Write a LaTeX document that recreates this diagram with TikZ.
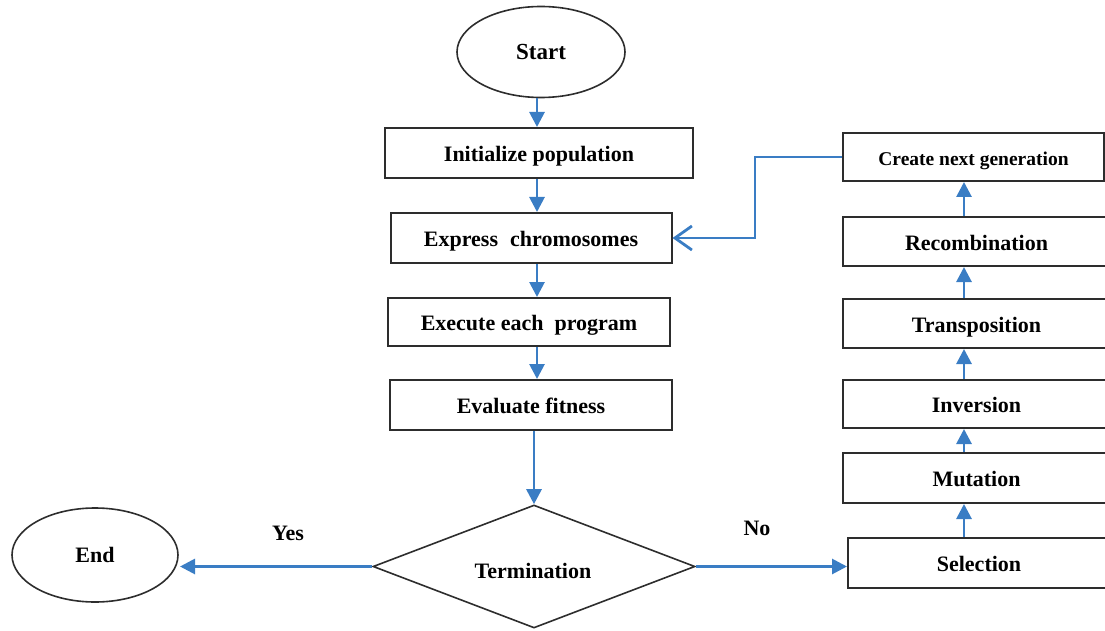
\documentclass[tikz,border=0pt]{standalone}
\usepackage{fontspec}
\setmainfont{Liberation Serif}
\usetikzlibrary{arrows.meta,shapes.geometric}
\definecolor{arrowblue}{RGB}{58,125,196}
\definecolor{edge}{RGB}{45,45,45}
\tikzset{
  lbl/.style={font=\fontsize{22}{25}\selectfont\bfseries},
  box/.style={draw=edge,line width=2pt,rectangle,inner sep=0pt,lbl,text height=17pt,text depth=0pt},
  oval/.style={draw=edge,line width=1.6pt,ellipse,inner sep=0pt,lbl},
  flow/.style={draw=arrowblue,line width=2.8pt,-{Triangle[length=15pt,width=15pt]}},
  back/.style={draw=arrowblue,line width=2.8pt,-{Straight Barb[length=17pt,width=24pt,line width=2.8pt]}},
}
\begin{document}
\begin{tikzpicture}[x=1pt,y=-1pt]
\useasboundingbox (0,0) rectangle (1105,631);
\clip (0,0) rectangle (1105,631);
% left column
\node[oval,minimum width=168pt,minimum height=91pt,font=\fontsize{23}{26}\selectfont\bfseries] (start) at (541,52) {Start};
\node[box,minimum width=308pt,minimum height=50pt] (init) at (539,153) {Initialize population};
\node[box,minimum width=281pt,minimum height=50pt] (expr) at (531,238) {Express\hspace{0.3em} chromosomes};
\node[box,minimum width=282pt,minimum height=48pt] (exec) at (529,322) {Execute each\hspace{0.25em} program};
\node[box,minimum width=282pt,minimum height=50pt] (eval) at (531,405) {Evaluate fitness};
\node[draw=edge,line width=1.6pt,diamond,aspect=2.6,inner sep=0pt,minimum width=322pt,minimum height=123pt] (term) at (534,566.5) {};
\node[lbl] (termtxt) at (533,571) {Termination};
\node[oval,minimum width=166pt,minimum height=94pt] (end) at (95,555) {End};
% right column
\node[box,minimum width=261pt,minimum height=48pt,font=\fontsize{19.5}{22}\selectfont\bfseries] (cng) at (973.5,157) {Create next generation};
\node[box,minimum width=267pt,minimum height=49pt] (rec) at (976.5,241.5) {Recombination};
\node[box,minimum width=267pt,minimum height=49pt] (tra) at (976.5,323.5) {Transposition};
\node[box,minimum width=267pt,minimum height=48pt] (inv) at (976.5,404) {Inversion};
\node[box,minimum width=267pt,minimum height=50pt] (mut) at (976.5,478) {Mutation};
\node[box,minimum width=262pt,minimum height=50pt] (sel) at (979,563) {Selection};
% labels
\node[lbl] (yes) at (288,533) {Yes};
\node[lbl] (no) at (757,528) {No};
% helper coordinates
\coordinate (col) at (537,0);
\coordinate (rc) at (964,0);
\coordinate (fb) at (755,0);
\coordinate (tipx) at (180,0);
% connectors
\draw[flow] (col |- start.south) -- (col |- init.north);
\draw[flow] (col |- init.south) -- (col |- expr.north);
\draw[flow] (col |- expr.south) -- (col |- exec.north);
\draw[flow] (col |- exec.south) -- (col |- eval.north);
\draw[flow] (term.north |- eval.south) -- (term.north);
\draw[flow] (term.west) -- (term.west -| tipx);
\draw[flow] (term.east) -- (term.east -| sel.west);
\draw[flow] (rc |- sel.north) -- (rc |- mut.south);
\draw[flow] (rc |- mut.north) -- (rc |- inv.south);
\draw[flow] (rc |- inv.north) -- (rc |- tra.south);
\draw[flow] (rc |- tra.north) -- (rc |- rec.south);
\draw[flow] (rc |- rec.north) -- (rc |- cng.south);
\draw[back] (cng.west) -- (cng.west -| fb) -- (fb |- expr.east) -- (expr.east);
\end{tikzpicture}
\end{document}
